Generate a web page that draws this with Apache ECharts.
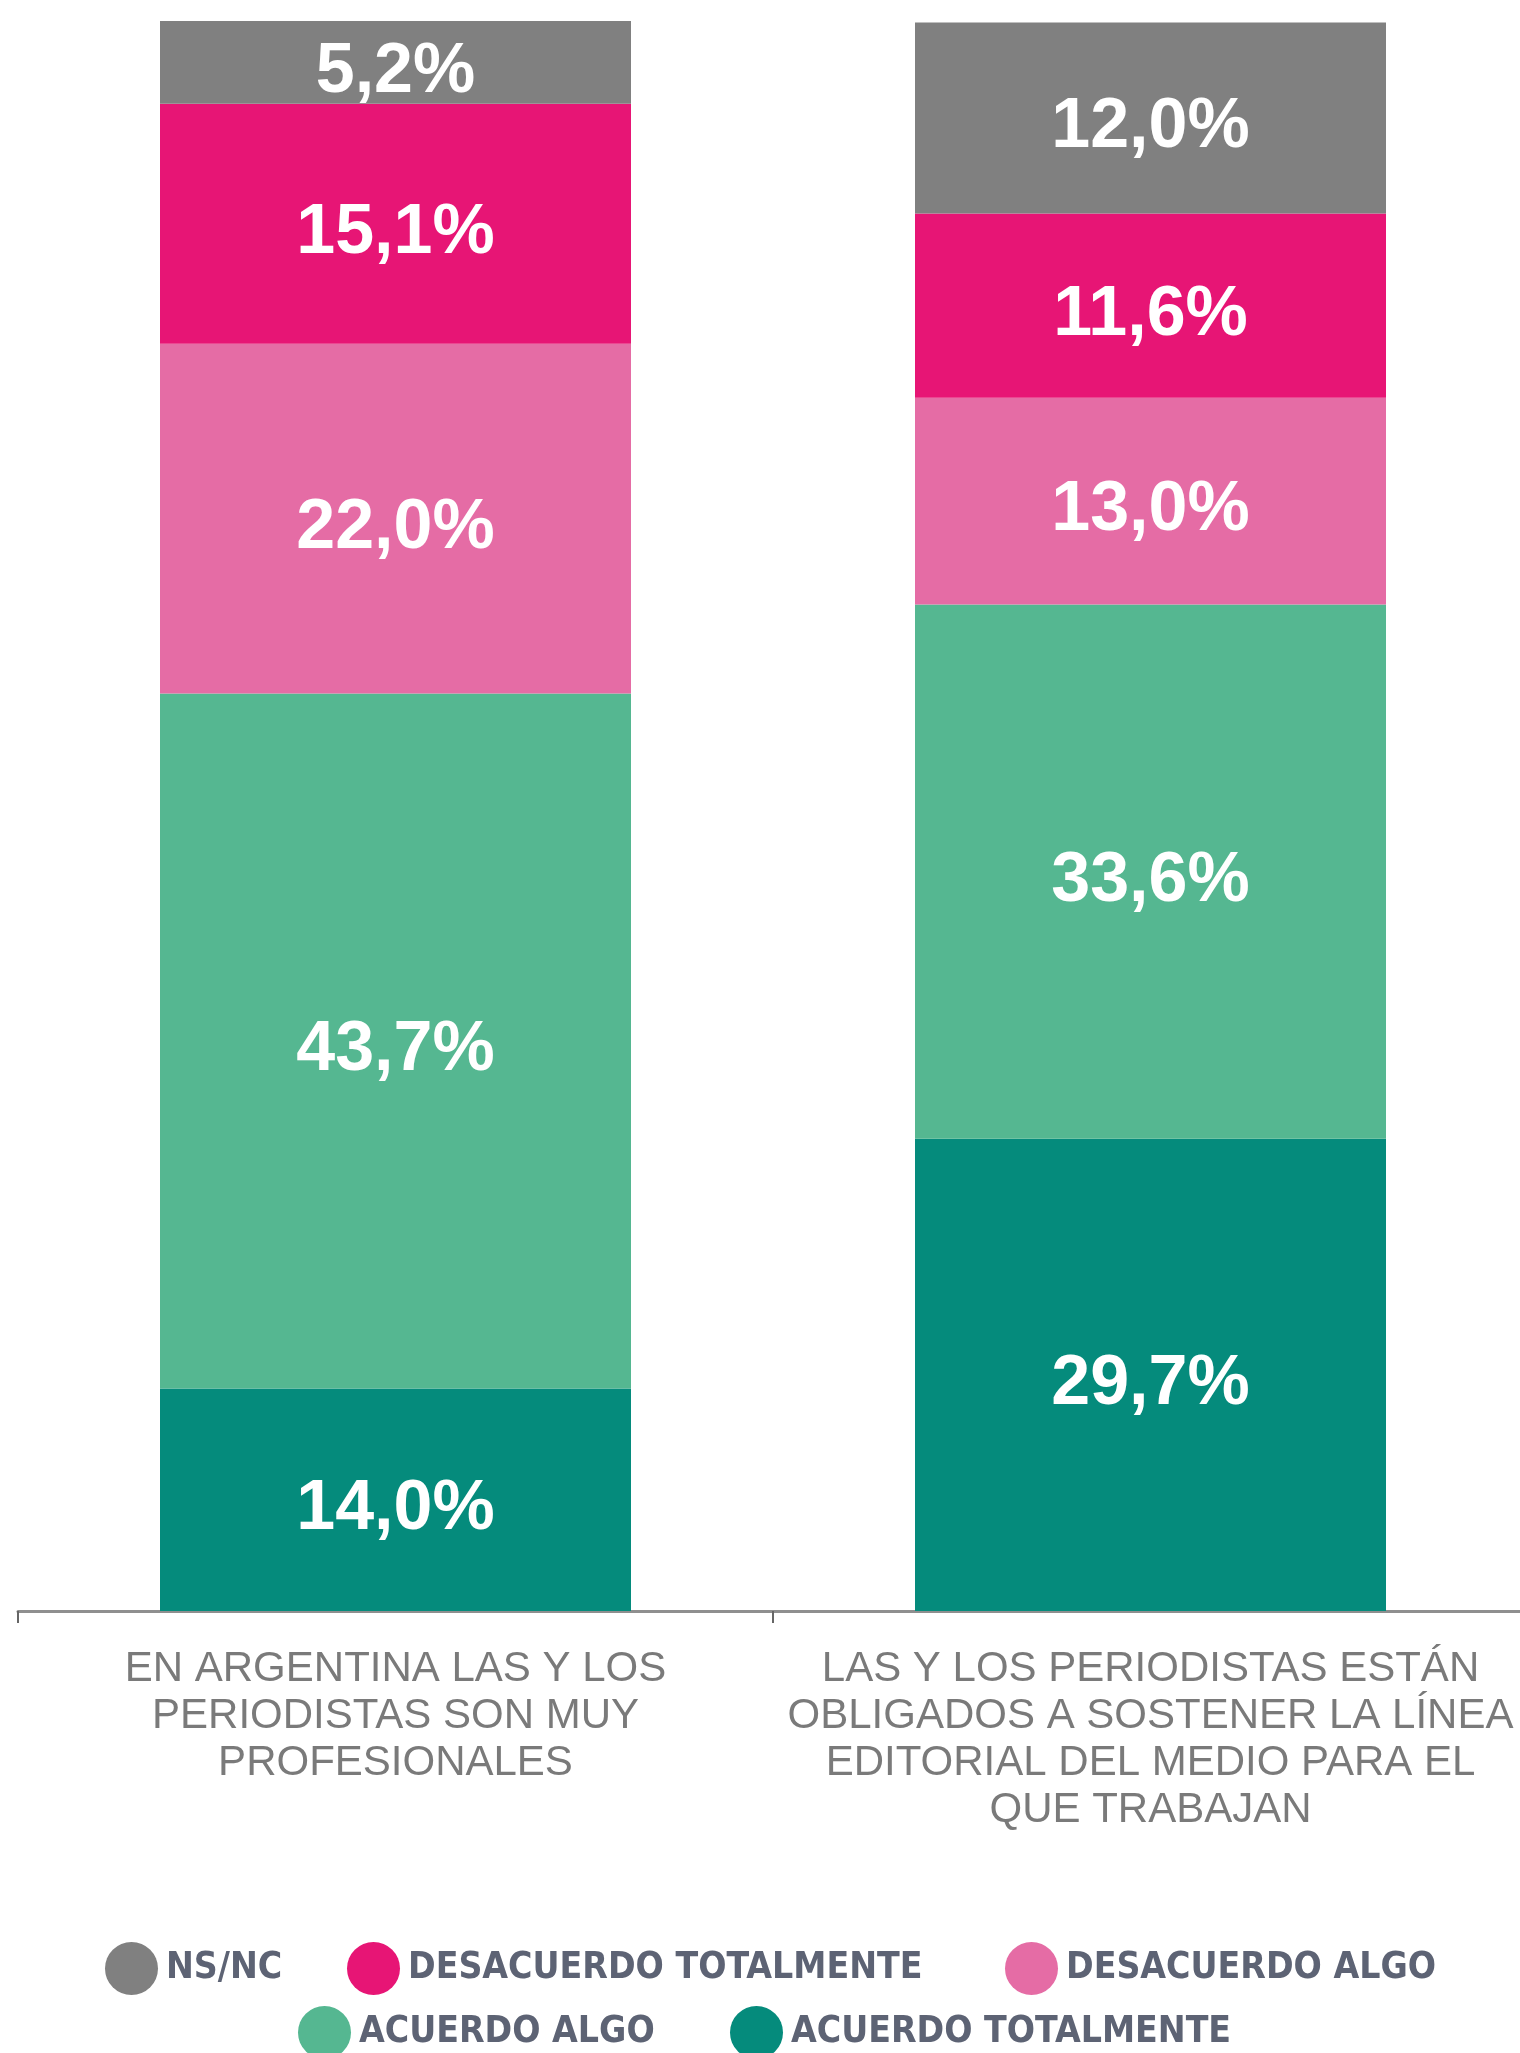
<!DOCTYPE html>
<html>
<head>
<meta charset="utf-8">
<script src="https://cdn.jsdelivr.net/npm/echarts@6/dist/echarts.min.js"></script>
<style>
html,body{margin:0;padding:0;background:#fff;overflow:hidden;}
#chart{width:1540px;height:2053px;}
</style>
</head>
<body>
<div id="chart"></div>
<script>
const categories = [
  'EN ARGENTINA LAS Y LOS\nPERIODISTAS SON MUY\nPROFESIONALES',
  'LAS Y LOS PERIODISTAS ESTÁN\nOBLIGADOS A SOSTENER LA LÍNEA\nEDITORIAL DEL MEDIO PARA EL\nQUE TRABAJAN'
];
const seriesNames = ['ACUERDO TOTALMENTE', 'ACUERDO ALGO', 'DESACUERDO ALGO', 'DESACUERDO TOTALMENTE', 'NS/NC'];
const acuerdoTotalmente = [14.0, 29.7];
const acuerdoAlgo = [43.7, 33.6];
const desacuerdoAlgo = [22.0, 13.0];
const desacuerdoTotalmente = [15.1, 11.6];
const nsnc = [5.2, 12.0];
const seriesValues = [acuerdoTotalmente, acuerdoAlgo, desacuerdoAlgo, desacuerdoTotalmente, nsnc];
const colors = ['#058b7c', '#55b791', '#e56ca5', '#e71575', '#808080'];

const chart = echarts.init(document.getElementById('chart'));

const legendFont = {
  fontFamily: "'Liberation Sans Narrow', 'DejaVu Sans Condensed', sans-serif",
  fontWeight: 'bold',
  fontSize: 37,
  color: '#5d6374',
  padding: [0, 0, 0, 3]
};
function legendAt(name, left, top) {
  return {
    data: [name], left: left, top: top, icon: 'circle',
    itemWidth: 53, itemHeight: 53, padding: 0,
    textStyle: legendFont, selectedMode: false
  };
}

chart.setOption({
  animation: false,
  backgroundColor: '#ffffff',
  grid: { left: 18, top: 21, width: 1510, bottom: 442, containLabel: false },
  xAxis: {
    type: 'category',
    data: categories,
    axisLine: { show: true, lineStyle: { color: '#8f8f8f', width: 3 } },
    axisTick: { show: true, length: 12, lineStyle: { color: '#666', width: 2 } },
    axisLabel: {
      interval: 0,
      hideOverlap: false,
      fontFamily: "'Liberation Sans', Arial, sans-serif",
      fontSize: 42,
      lineHeight: 47,
      color: '#7a7a7a',
      margin: 35,
      align: 'center'
    }
  },
  yAxis: { type: 'value', min: 0, max: 100, show: false, splitLine: { show: false } },
  legend: [
    legendAt('NS/NC', 105, 1942),
    legendAt('DESACUERDO TOTALMENTE', 347, 1942),
    legendAt('DESACUERDO ALGO', 1005, 1942),
    legendAt('ACUERDO ALGO', 298, 2006),
    legendAt('ACUERDO TOTALMENTE', 730, 2006)
  ],
  series: seriesNames.map((name, i) => ({
    name: name,
    type: 'bar',
    stack: 'total',
    barWidth: 471,
    data: seriesValues[i],
    itemStyle: { color: colors[i] },
    label: {
      show: true,
      position: 'inside',
      offset: [0, 10],
      color: '#ffffff',
      fontFamily: "'Liberation Sans', Arial, sans-serif",
      fontWeight: 'bold',
      fontSize: 70,
      formatter: p => p.value.toFixed(1).replace('.', ',') + '%'
    }
  }))
});
</script>
</body>
</html>
